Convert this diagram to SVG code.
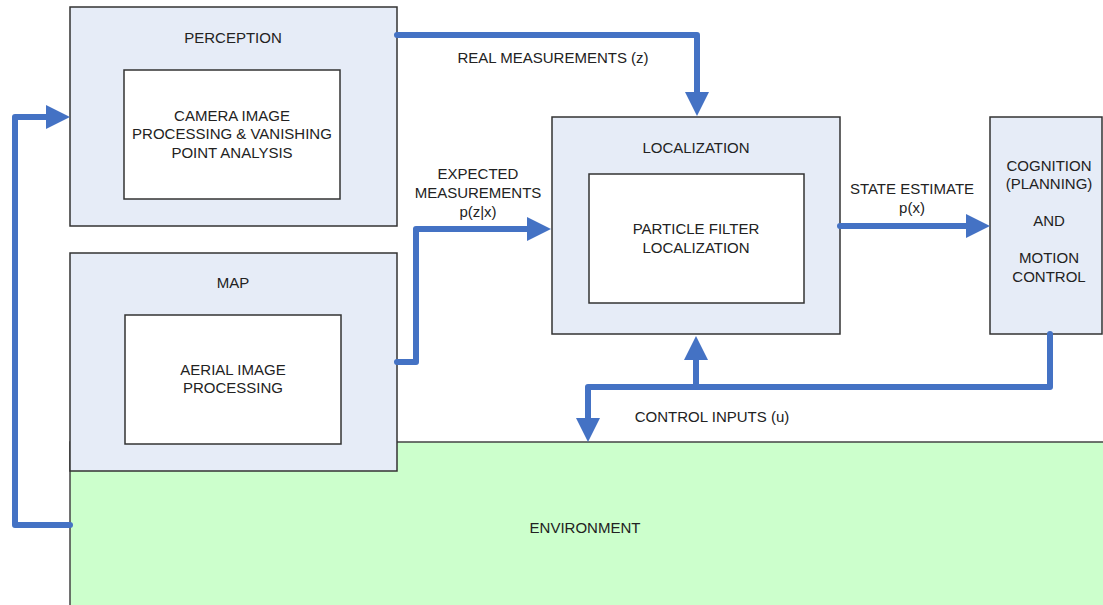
<svg xmlns="http://www.w3.org/2000/svg" width="1103" height="605" viewBox="0 0 1103 605">
<style>
.outer{fill:#E6ECF7;stroke:#333;stroke-width:1.5}
.inner{fill:#FFFFFF;stroke:#333;stroke-width:1.5}
.env{fill:#CCFFCC;stroke:#444;stroke-width:1.5}
text{font-family:"Liberation Sans",Arial,sans-serif;font-size:15px;fill:#222;text-anchor:middle;dominant-baseline:central}
.conn{fill:none;stroke:#4472C4;stroke-width:6;stroke-linejoin:round;stroke-linecap:round}
</style>
<defs>
<marker id="ah" markerUnits="userSpaceOnUse" markerWidth="24" markerHeight="24" refX="0" refY="12" orient="auto" overflow="visible">
<path d="M0,0 L24,12 L0,24 z" fill="#4472C4"/>
</marker>
</defs>
<g id="environment">
<rect class="env" x="70" y="442" width="1040" height="170"/>
<text x="585" y="527">ENVIRONMENT</text>
</g>
<g id="perception">
<rect class="outer" x="70" y="7" width="327" height="219"/>
<text x="233" y="37">PERCEPTION</text>
<rect class="inner" x="124" y="70" width="216" height="129"/>
<text x="232" y="115">CAMERA IMAGE</text>
<text x="232" y="133">PROCESSING &amp; VANISHING</text>
<text x="232" y="152">POINT ANALYSIS</text>
</g>
<g id="map">
<rect class="outer" x="70" y="253" width="327" height="218"/>
<text x="233" y="282">MAP</text>
<rect class="inner" x="125" y="315" width="216" height="129"/>
<text x="233" y="369">AERIAL IMAGE</text>
<text x="233" y="387">PROCESSING</text>
</g>
<g id="localization">
<rect class="outer" x="552" y="117" width="288" height="217"/>
<text x="696" y="147">LOCALIZATION</text>
<rect class="inner" x="589" y="174" width="215" height="129"/>
<text x="696" y="228">PARTICLE FILTER</text>
<text x="696" y="247">LOCALIZATION</text>
</g>
<g id="cognition">
<rect class="outer" x="990" y="117" width="112" height="217"/>
<text x="1049" y="165">COGNITION</text>
<text x="1049" y="183">(PLANNING)</text>
<text x="1049" y="220">AND</text>
<text x="1049" y="257">MOTION</text>
<text x="1049" y="276">CONTROL</text>
</g>
<g id="connectors">
<path class="conn" d="M70,525 H15 V117 H46" marker-end="url(#ah)"/>
<path class="conn" d="M397,35 H697 V92" marker-end="url(#ah)"/>
<path class="conn" d="M397,362 H416 V229 H527" marker-end="url(#ah)"/>
<path class="conn" d="M840,226 H966" marker-end="url(#ah)"/>
<path class="conn" d="M1050,334 V387 H588 V418" marker-end="url(#ah)"/>
<path class="conn" d="M696,387 V360" marker-end="url(#ah)"/>
<text x="553" y="57">REAL MEASUREMENTS (z)</text>
<text x="478" y="173">EXPECTED</text>
<text x="478" y="192">MEASUREMENTS</text>
<text x="478" y="211">p(z|x)</text>
<text x="912" y="188">STATE ESTIMATE</text>
<text x="912" y="207">p(x)</text>
<text x="712" y="416">CONTROL INPUTS (u)</text>
</g>
</svg>
